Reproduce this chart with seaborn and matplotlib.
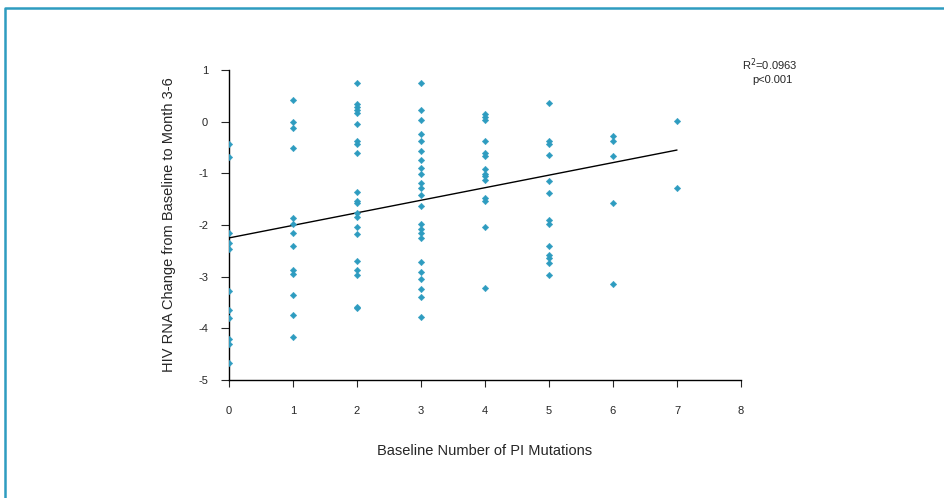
import matplotlib
matplotlib.use('Agg')
import matplotlib.pyplot as plt
import numpy as np
import pandas as pd
import seaborn as sns
from matplotlib.lines import Line2D

TEAL = "#2E9CC0"

# values, one list per number of PI mutations
hiv_x0 = [-0.44, -0.69, -2.15, -2.35, -2.46, -3.27, -3.64, -3.80, -4.21, -4.31, -4.68]
hiv_x1 = [0.41, -0.01, -0.12, -0.50, -1.87, -1.98, -2.15, -2.40, -2.88, -2.94, -3.35, -3.75, -4.16]
hiv_x2 = [0.74, 0.34, 0.28, 0.22, 0.16, -0.04, -0.38, -0.43, -0.61, -1.36, -1.54, -1.58,
          -1.77, -1.84, -2.04, -2.18, -2.69, -2.88, -2.96, -3.58, -3.61]
hiv_x3 = [0.74, 0.22, 0.03, -0.23, -0.38, -0.56, -0.75, -0.89, -1.01, -1.19, -1.29, -1.41,
          -1.63, -1.99, -2.07, -2.15, -2.25, -2.72, -2.90, -3.04, -3.23, -3.39, -3.78]
hiv_x4 = [0.14, 0.09, 0.04, -0.38, -0.61, -0.66, -0.91, -1.01, -1.06, -1.13, -1.47, -1.54,
          -2.04, -3.21]
hiv_x5 = [0.37, -0.38, -0.43, -0.65, -1.15, -1.39, -1.90, -1.98, -2.40, -2.59, -2.64, -2.73, -2.97]
hiv_x6 = [-0.27, -0.38, -0.67, -1.57, -3.14]
hiv_x7 = [0.01, -1.28]

# fitted line as printed in the figure
fit_intercept = -2.25
fit_slope = 0.243
fit_range = [0, 7]

groups = [hiv_x0, hiv_x1, hiv_x2, hiv_x3, hiv_x4, hiv_x5, hiv_x6, hiv_x7]
mutations = []
change = []
for n, vals in enumerate(groups):
    mutations += [n] * len(vals)
    change += vals
df = pd.DataFrame({'mutations': mutations, 'change': change})

fit_df = pd.DataFrame({'mutations': fit_range})
fit_df['change'] = fit_intercept + fit_slope * fit_df['mutations']

x_ticks = list(range(0, 9))
y_ticks = list(range(-5, 2))

sns.set_style('white')
plt.rcParams['font.family'] = ['Liberation Sans Narrow', 'Liberation Sans', 'DejaVu Sans']
plt.rcParams['axes.unicode_minus'] = False

fig = plt.figure(figsize=(9.44, 4.98), dpi=100)
ax = fig.add_axes([229 / 944, 1 - 380 / 498, 512 / 944, 310 / 498])

sns.scatterplot(data=df, x='mutations', y='change', ax=ax, marker='D', s=11,
                color=TEAL, edgecolor=TEAL, linewidth=0.3, zorder=3)
sns.lineplot(data=fit_df, x='mutations', y='change', ax=ax, color='black',
             linewidth=1.0, zorder=2)

ax.set_xlim(0, 8)
ax.set_ylim(-5, 1)
ax.set_xticks(x_ticks)
ax.set_yticks(y_ticks)
ax.tick_params(axis='x', direction='out', length=5, width=0.8, pad=14, labelsize=8, bottom=True)
ax.tick_params(axis='y', direction='out', length=6, width=0.8, pad=9, labelsize=8, left=True)

for side in ['top', 'right']:
    ax.spines[side].set_visible(False)
for side in ['left', 'bottom']:
    ax.spines[side].set_color('black')
    ax.spines[side].set_linewidth(1.0)

ax.set_xlabel('Baseline Number of PI Mutations', fontsize=10.5, labelpad=20)
ax.set_ylabel('HIV RNA Change from Baseline to Month 3-6', fontsize=10.5, labelpad=16)

ax.text(1.057, 1.016, 'R$^2$=0.0963', transform=ax.transAxes, fontsize=8,
        ha='center', va='center')
ax.text(1.061, 0.967, 'p<0.001', transform=ax.transAxes, fontsize=8,
        ha='center', va='center')

# teal frame at top and left of the figure
fig.add_artist(Line2D([5 / 944, 5 / 944, 1.0], [0.0, 1 - 8 / 498, 1 - 8 / 498],
                      transform=fig.transFigure, color=TEAL, linewidth=1.8))

fig.savefig('out.png', dpi=100, facecolor='white')
